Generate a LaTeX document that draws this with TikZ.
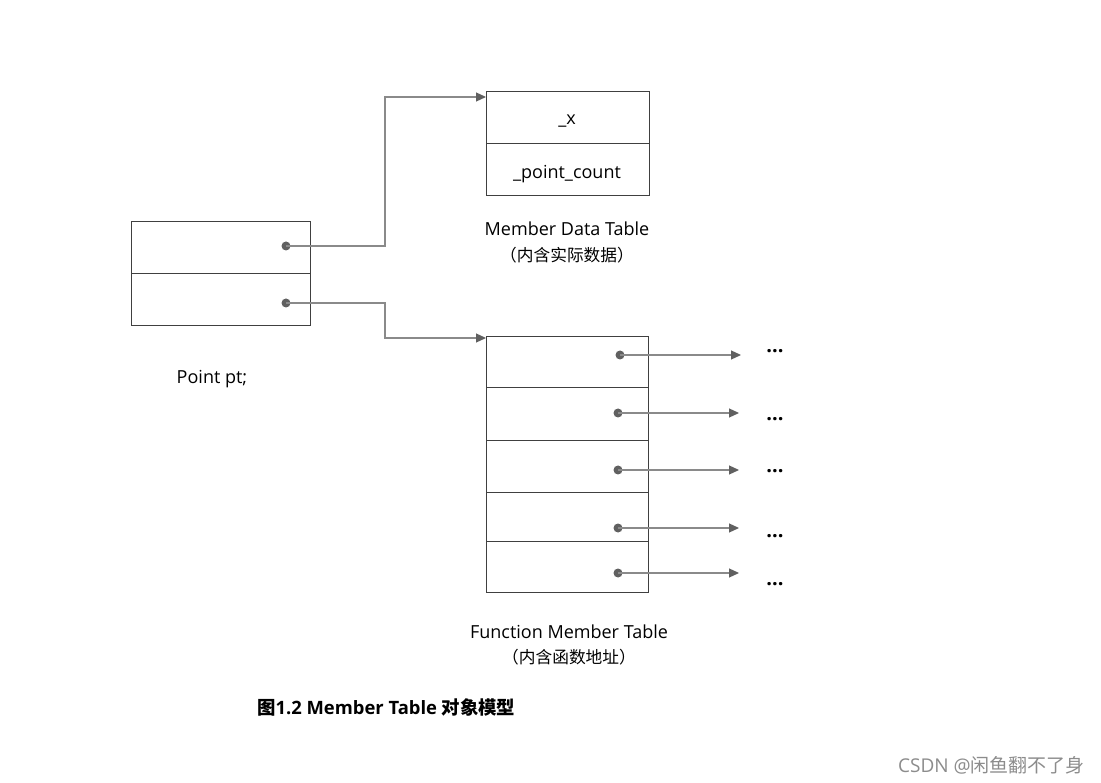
\documentclass[tikz,border=0pt]{standalone}
\usepackage{fontspec}
\setmainfont{Open Sans}
\newfontfamily\cjk{Noto Sans CJK SC}
\usetikzlibrary{arrows.meta}
\definecolor{boxline}{HTML}{404040}
\definecolor{conn}{HTML}{8A8A8A}
\definecolor{dotc}{HTML}{606060}
\begin{document}
\begin{tikzpicture}[x=1pt,y=-1pt,
  cell/.style={draw=boxline, line width=1pt, rectangle, inner sep=0pt, anchor=north west},
  dotn/.style={circle, fill=dotc, inner sep=0pt, minimum size=9pt},
  conn/.style={draw=conn, line width=1.2pt, -{Triangle[length=10pt,width=9pt,color=dotc]}},
  lbl/.style={font=\fontsize{18}{21}\selectfont, text=black, inner sep=0pt},
  cjklbl/.style={font=\cjk\fontsize{16.7}{20}\selectfont, text=black, inner sep=0pt},
  ell/.style={font=\bfseries\fontsize{20}{22}\selectfont, inner sep=0pt}]
\useasboundingbox[fill=white] (0,0) rectangle (1101,783);
% left object
\node[cell, minimum width=179pt, minimum height=52pt] (p1) at (131,221) {};
\node[cell, minimum width=179pt, minimum height=52pt] (p2) at (131,273) {};
\node[dotn] (d1) at (286,246) {};
\node[dotn] (d2) at (286,303) {};
\node[lbl] (pt) at (212,379) {Point pt;};
% member data table
\node[cell, minimum width=163pt, minimum height=52pt] (m1) at (486,91) {};
\node[cell, minimum width=163pt, minimum height=52pt] (m2) at (486,143) {};
\node[lbl] (tx) at (567,121) {\_x};
\node[lbl] (tpc) at (567,174) {\_point\_count};
\node[lbl] (mdt) at (567,229) {Member Data Table};
\node[cjklbl] (mdt2) at (567,255) {（内含实际数据）};
% function member table
\node[cell, minimum width=162pt, minimum height=51pt] (f1) at (486,336) {};
\node[cell, minimum width=162pt, minimum height=53pt] (f2) at (486,387) {};
\node[cell, minimum width=162pt, minimum height=52pt] (f3) at (486,440) {};
\node[cell, minimum width=162pt, minimum height=49pt] (f4) at (486,492) {};
\node[cell, minimum width=162pt, minimum height=51pt] (f5) at (486,541) {};
\node[lbl] (fmt) at (569,632) {Function Member Table};
\node[cjklbl] (fmt2) at (569,657) {（内含函数地址）};
% connectors from pt
\coordinate (t1) at (486,97);
\coordinate (t2) at (486,338);
\draw[conn] (d1.center) -- (385,246) -- (385,97) -- (t1);
\draw[conn] (d2.center) -- (385,303) -- (385,338) -- (t2);
% function pointers
\node[dotn] (g1) at (620,355) {};
\node[dotn] (g2) at (618,413) {};
\node[dotn] (g3) at (618,470) {};
\node[dotn] (g4) at (618,528) {};
\node[dotn] (g5) at (618,573) {};
\coordinate (e1) at (741,355);
\coordinate (e2) at (739,413);
\coordinate (e3) at (739,470);
\coordinate (e4) at (739,528);
\coordinate (e5) at (739,573);
\foreach \i in {1,...,5} \draw[conn] (g\i.center) -- (e\i);
\node[ell] (x1) at (775,351) {...};
\node[ell] (x2) at (775,419) {...};
\node[ell] (x3) at (775,471) {...};
\node[ell] (x4) at (775,536) {...};
\node[ell] (x5) at (775,584) {...};
% caption
\node[anchor=west, inner sep=0pt, font=\bfseries\fontsize{18.4}{21}\selectfont] (cap) at (257,707) {{\cjk\bfseries 图}1.2 Member Table {\cjk\bfseries 对象模型}};
\node[anchor=east, inner sep=0pt, text=gray!90, font=\fontsize{19}{22}\selectfont] (wm) at (1085,765) {CSDN @{\cjk 闲鱼翻不了身}};
\end{tikzpicture}
\end{document}
